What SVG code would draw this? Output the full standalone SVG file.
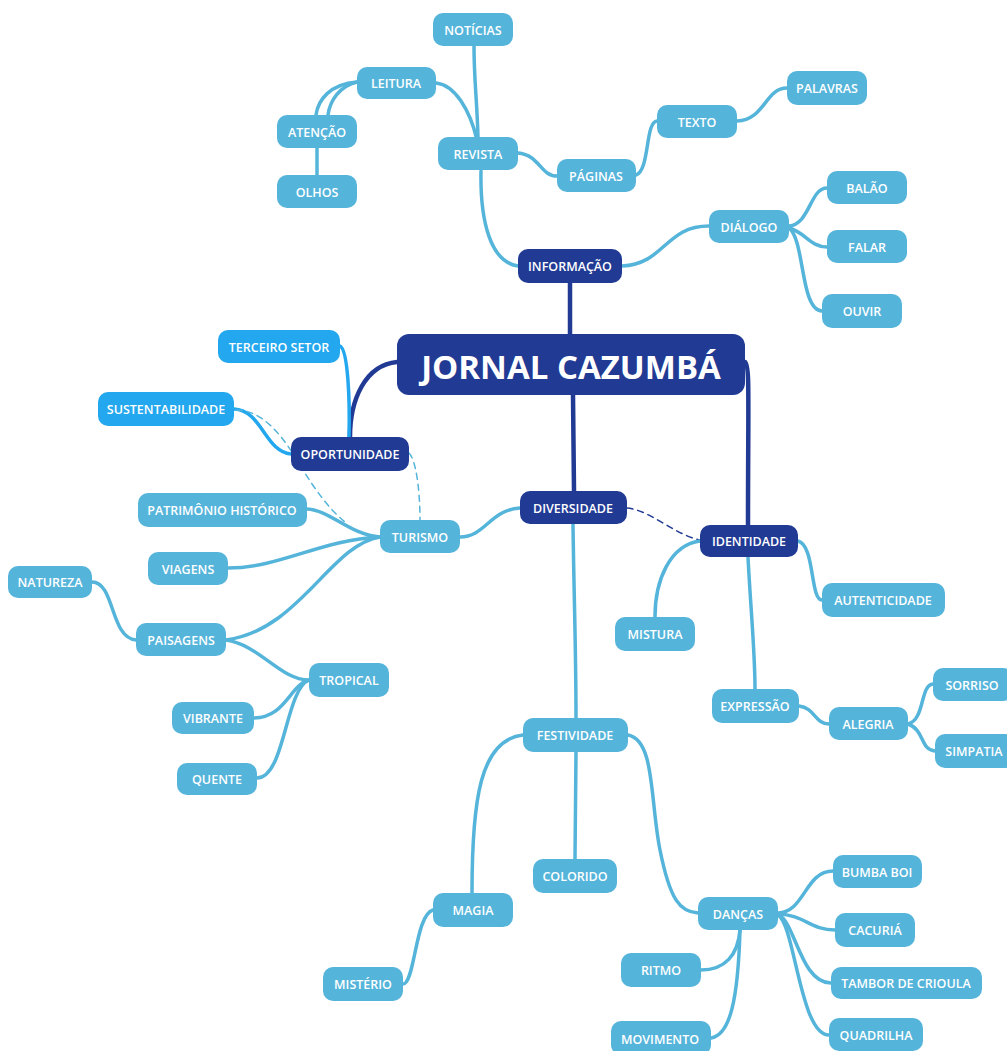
<svg xmlns="http://www.w3.org/2000/svg" width="1007" height="1051" viewBox="0 0 1007 1051">
<style>
.n rect{fill:#55b4da;}
.d rect{fill:#213a94;}
.b rect{fill:#23a7ee;}
text{font-family:"Open Sans","Liberation Sans",sans-serif;font-weight:600;font-size:12.5px;fill:#ffffff;text-anchor:middle;dominant-baseline:central;}
.c path{fill:none;stroke:#55b4da;stroke-width:3.5;stroke-linecap:round;}
.c path.dk{stroke:#213a94;stroke-width:4.5;}
.c path.bb{stroke:#23a7ee;stroke-width:3.5;}
.c path.dsh{stroke:#55b4da;stroke-width:1.5;stroke-dasharray:6 5;}
.c path.dshd{stroke:#213a94;stroke-width:1.5;stroke-dasharray:6 5;}
</style>
<rect width="1007" height="1051" fill="#ffffff"/>
<g class="c" id="connectors">
<path class="dk" d="M570,334 L570,283"/>
<path class="dk" d="M573,395 L574,491"/>
<path class="dk" d="M745,362 C750,365 748,400 748,525"/>
<path class="dk" d="M397,362 C365,365 350,400 350,437"/>
<path d="M518,266 C490,262 480,220 481,171"/>
<path d="M622,266 C665,264 665,226 709,226"/>
<path d="M478,137 C477,100 474,80 474,46"/>
<path d="M477,140 C470,110 455,85 436,83"/>
<path d="M518,153 C540,155 540,176 557,176"/>
<path d="M636,175 C650,170 645,122 657,121"/>
<path d="M737,121 C765,120 765,88 787,88"/>
<path d="M357,82 C330,84 318,100 316,115"/>
<path d="M357,82 C340,86 330,100 328,115"/>
<path d="M317,148 L317,175"/>
<path d="M789,226 C810,224 810,188 827,188"/>
<path d="M789,228 C805,232 810,247 827,247"/>
<path d="M789,228 C805,240 800,310 822,311"/>
<path class="bb" d="M349,437 C350,400 348,350 340,346"/>
<path class="bb" d="M291,454 C265,452 262,410 234,409"/>
<path class="dsh" d="M236,410 C265,410 285,440 300,465 S330,510 345,522"/>
<path class="dsh" d="M409,453 C416,460 420,490 420,520"/>
<path class="dshd" d="M627,508 C650,510 675,535 700,540"/>
<path d="M520,508 C490,510 485,537 460,537"/>
<path d="M573,524 C574,600 576,650 576,718"/>
<path d="M380,537 C350,535 330,510 307,509"/>
<path d="M380,537 C320,540 280,568 228,568"/>
<path d="M380,537 C330,545 300,630 226,640"/>
<path d="M136,640 C110,638 115,582 92,582"/>
<path d="M226,640 C260,645 280,680 309,680"/>
<path d="M309,680 C290,685 285,718 254,718"/>
<path d="M309,680 C285,690 285,778 257,778"/>
<path d="M700,541 C670,545 655,580 655,617"/>
<path d="M798,541 C815,545 810,600 822,600"/>
<path d="M748,557 C750,600 755,650 755,689"/>
<path d="M799,706 C815,708 815,724 829,724"/>
<path d="M908,724 C925,720 920,685 933,684"/>
<path d="M908,724 C925,730 920,750 935,751"/>
<path d="M523,735 C480,740 472,800 472,893"/>
<path d="M576,752 L575,859"/>
<path d="M628,735 C655,740 650,800 660,850 S680,912 698,913"/>
<path d="M433,910 C415,915 415,984 403,984"/>
<path d="M778,913 C805,912 805,871 833,871"/>
<path d="M778,914 C805,915 810,930 835,930"/>
<path d="M778,915 C795,920 800,983 831,983"/>
<path d="M778,915 C795,925 800,1035 829,1035"/>
<path d="M740,930 C738,955 725,970 701,970"/>
<path d="M740,930 C738,1000 730,1035 711,1038"/>
</g>
<g id="jornal" class="d"><rect x="397" y="334" width="348" height="61" rx="12"/><text x="571" y="366" style="font-size:33px;font-weight:700">JORNAL CAZUMBÁ</text></g>
<g id="informacao" class="d"><rect x="518" y="249" width="104" height="34" rx="10"/><text x="570" y="266">INFORMAÇÃO</text></g>
<g id="oportunidade" class="d"><rect x="291" y="437" width="118" height="34" rx="10"/><text x="350" y="454">OPORTUNIDADE</text></g>
<g id="diversidade" class="d"><rect x="520" y="491" width="107" height="33" rx="10"/><text x="573" y="508">DIVERSIDADE</text></g>
<g id="identidade" class="d"><rect x="700" y="525" width="98" height="32" rx="10"/><text x="749" y="541">IDENTIDADE</text></g>
<g id="noticias" class="n"><rect x="433" y="13" width="80" height="33" rx="10"/><text x="473" y="30">NOTÍCIAS</text></g>
<g id="leitura" class="n"><rect x="357" y="67" width="79" height="32" rx="10"/><text x="396" y="83">LEITURA</text></g>
<g id="atencao" class="n"><rect x="277" y="115" width="80" height="33" rx="10"/><text x="317" y="132">ATENÇÃO</text></g>
<g id="olhos" class="n"><rect x="277" y="175" width="80" height="33" rx="10"/><text x="317" y="192">OLHOS</text></g>
<g id="revista" class="n"><rect x="438" y="137" width="80" height="33" rx="10"/><text x="478" y="154">REVISTA</text></g>
<g id="paginas" class="n"><rect x="557" y="159" width="79" height="33" rx="10"/><text x="596" y="176">PÁGINAS</text></g>
<g id="texto" class="n"><rect x="657" y="105" width="80" height="33" rx="10"/><text x="697" y="122">TEXTO</text></g>
<g id="palavras" class="n"><rect x="787" y="71" width="80" height="34" rx="10"/><text x="827" y="88">PALAVRAS</text></g>
<g id="dialogo" class="n"><rect x="709" y="210" width="80" height="33" rx="10"/><text x="749" y="227">DIÁLOGO</text></g>
<g id="balao" class="n"><rect x="827" y="171" width="80" height="33" rx="10"/><text x="867" y="188">BALÃO</text></g>
<g id="falar" class="n"><rect x="827" y="230" width="80" height="33" rx="10"/><text x="867" y="247">FALAR</text></g>
<g id="ouvir" class="n"><rect x="822" y="294" width="80" height="34" rx="10"/><text x="862" y="311">OUVIR</text></g>
<g id="terceiro" class="b"><rect x="218" y="330" width="122" height="33" rx="10"/><text x="279" y="347">TERCEIRO SETOR</text></g>
<g id="sustentabilidade" class="b"><rect x="98" y="392" width="136" height="34" rx="10"/><text x="166" y="409">SUSTENTABILIDADE</text></g>
<g id="turismo" class="n"><rect x="380" y="520" width="80" height="33" rx="10"/><text x="420" y="537">TURISMO</text></g>
<g id="patrimonio" class="n"><rect x="138" y="493" width="169" height="34" rx="10"/><text x="222" y="510">PATRIMÔNIO HISTÓRICO</text></g>
<g id="viagens" class="n"><rect x="148" y="552" width="80" height="33" rx="10"/><text x="188" y="569">VIAGENS</text></g>
<g id="natureza" class="n"><rect x="8" y="566" width="84" height="32" rx="10"/><text x="50" y="582">NATUREZA</text></g>
<g id="paisagens" class="n"><rect x="136" y="623" width="90" height="33" rx="10"/><text x="181" y="640">PAISAGENS</text></g>
<g id="tropical" class="n"><rect x="309" y="663" width="80" height="34" rx="10"/><text x="349" y="680">TROPICAL</text></g>
<g id="vibrante" class="n"><rect x="172" y="702" width="82" height="32" rx="10"/><text x="213" y="718">VIBRANTE</text></g>
<g id="quente" class="n"><rect x="177" y="763" width="80" height="32" rx="10"/><text x="217" y="779">QUENTE</text></g>
<g id="mistura" class="n"><rect x="615" y="617" width="80" height="34" rx="10"/><text x="655" y="634">MISTURA</text></g>
<g id="autenticidade" class="n"><rect x="822" y="583" width="123" height="34" rx="10"/><text x="883" y="600">AUTENTICIDADE</text></g>
<g id="expressao" class="n"><rect x="712" y="689" width="87" height="34" rx="10"/><text x="755" y="706">EXPRESSÃO</text></g>
<g id="alegria" class="n"><rect x="829" y="707" width="79" height="33" rx="10"/><text x="868" y="724">ALEGRIA</text></g>
<g id="sorriso" class="n"><rect x="933" y="668" width="80" height="33" rx="10"/><text x="972" y="685">SORRISO</text></g>
<g id="simpatia" class="n"><rect x="935" y="734" width="80" height="34" rx="10"/><text x="974" y="751">SIMPATIA</text></g>
<g id="festividade" class="n"><rect x="523" y="718" width="105" height="34" rx="10"/><text x="575" y="735">FESTIVIDADE</text></g>
<g id="colorido" class="n"><rect x="533" y="859" width="84" height="34" rx="10"/><text x="575" y="876">COLORIDO</text></g>
<g id="magia" class="n"><rect x="433" y="893" width="80" height="34" rx="10"/><text x="473" y="910">MAGIA</text></g>
<g id="misterio" class="n"><rect x="323" y="967" width="80" height="34" rx="10"/><text x="363" y="984">MISTÉRIO</text></g>
<g id="dancas" class="n"><rect x="698" y="897" width="80" height="33" rx="10"/><text x="738" y="914">DANÇAS</text></g>
<g id="ritmo" class="n"><rect x="621" y="953" width="80" height="34" rx="10"/><text x="661" y="970">RITMO</text></g>
<g id="movimento" class="n"><rect x="611" y="1021" width="100" height="34" rx="10"/><text x="660" y="1039">MOVIMENTO</text></g>
<g id="bumba" class="n"><rect x="833" y="855" width="89" height="33" rx="10"/><text x="877" y="872">BUMBA BOI</text></g>
<g id="cacuria" class="n"><rect x="835" y="913" width="80" height="34" rx="10"/><text x="875" y="930">CACURIÁ</text></g>
<g id="tambor" class="n"><rect x="831" y="967" width="151" height="32" rx="10"/><text x="906" y="983">TAMBOR DE CRIOULA</text></g>
<g id="quadrilha" class="n"><rect x="829" y="1018" width="94" height="33" rx="10"/><text x="876" y="1035">QUADRILHA</text></g>
</svg>
